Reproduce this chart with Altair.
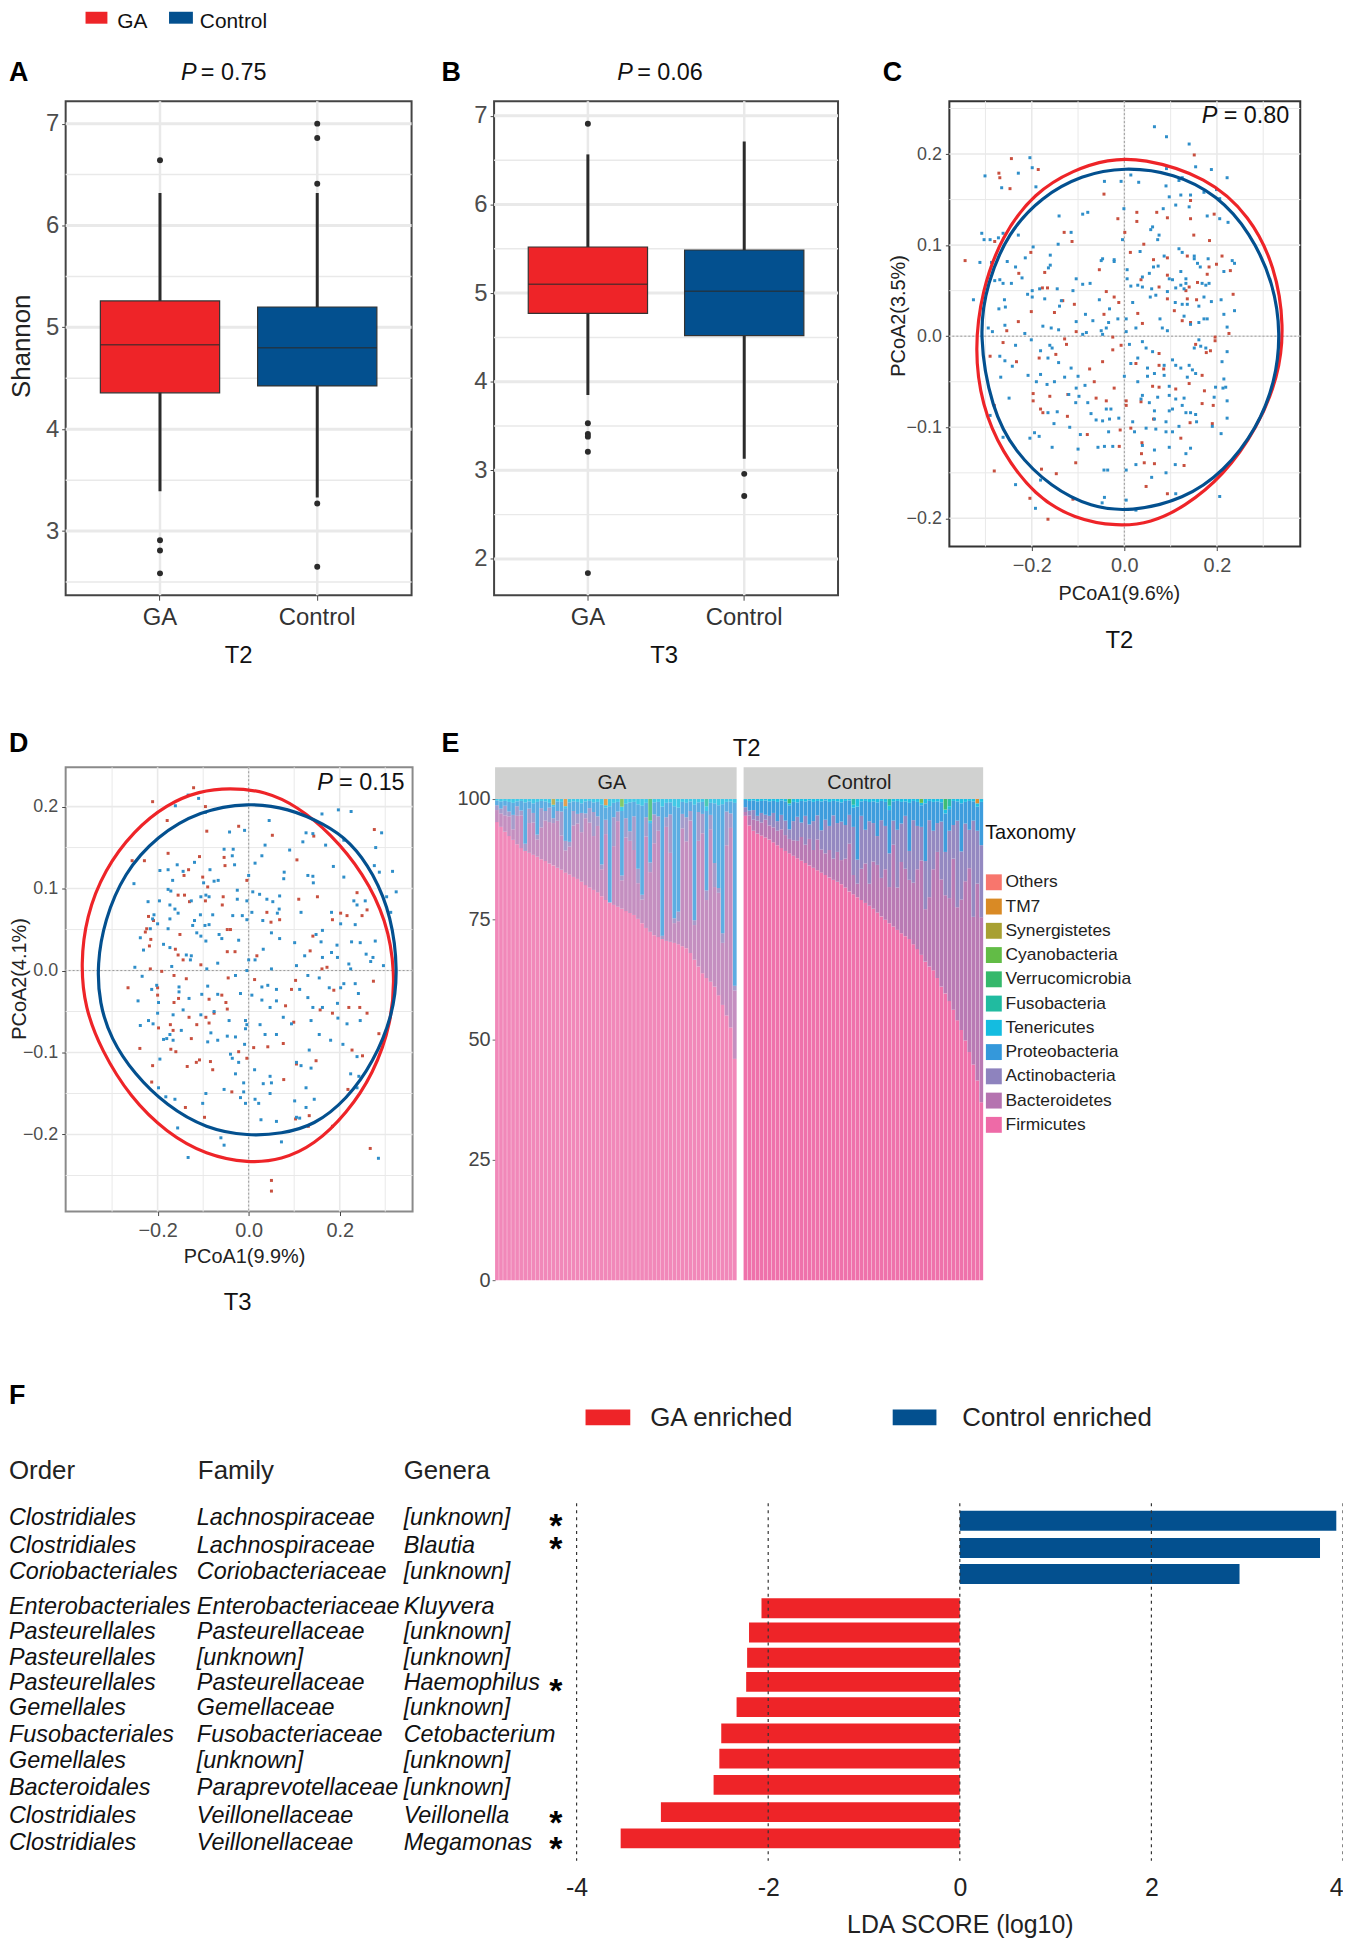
import altair as alt
import pandas as pd

FONT = "Liberation Sans"
RED = "#EE2428"
BLUE = "#03508F"
DOT_RED = "#C8503F"
DOT_BLUE = "#2E8EC9"
GRID = "#E9E9E9"

# ---------- Panels A, B: box summaries (q1, median, q3, whisker low, whisker high)
GROUPS = ["GA", "Control"]
BOX_COLORS = [RED, BLUE]
A_q1, A_med, A_q3 = [4.357, 4.425], [4.83, 4.80], [5.26, 5.20]
A_lo, A_hi = [3.39, 3.33], [6.32, 6.32]
A_out_group = ["GA", "GA", "GA", "GA", "Control", "Control", "Control", "Control", "Control"]
A_out_value = [6.64, 2.91, 2.81, 2.585, 7.0, 6.86, 6.41, 3.27, 2.65]
B_q1, B_med, B_q3 = [4.77, 4.52], [5.10, 5.02], [5.52, 5.486]
B_lo, B_hi = [3.85, 3.13], [6.565, 6.71]
B_out_group = ["GA", "GA", "GA", "GA", "GA", "GA", "Control", "Control"]
B_out_value = [6.91, 3.53, 3.41, 3.38, 3.21, 1.84, 2.96, 2.71]

# ---------- Panel C: PCoA points and ellipses
C_red = [(-.244,.195),(-.271,.179),(-.269,.174),(-.247,.162),(-.186,.183),(-.044,.156),(-.280,.104),(-.344,.083),(-.014,.129),(.027,.136),(.027,.126),(.070,.136),(.093,.130),(.143,.149),(.143,.129),(.151,.199),(.194,.134),(.150,.111),(.184,.105),(.001,.114),(.042,.101),(.013,.092),(-.130,.114),(-.113,.104),(-.202,.092),(-.172,.070),(-.228,.069),(-.177,.053),(-.166,.053),(-.133,.039),(-.108,.035),(-.201,.027),(-.151,.026),(-.229,.016),(-.254,.006),(-.262,-.007),(-.290,-.022),(-.233,-.028),(-.184,-.024),(-.129,-.003),(-.125,-.009),(-.148,-.020),(-.104,.005),(-.039,.049),(-.022,.043),(-.012,.037),(-.054,.073),(-.044,.024),(-.025,-.001),(-.007,-.010),(-.025,-.015),(-.047,-.028),(-.075,-.036),(-.065,-.050),(.029,.025),(.039,.014),(.025,-.030),(.075,-.019),(.061,-.055),(.075,-.032),(.085,-.036),(.075,-.056),(.036,-.072),(.063,-.091),(.004,-.071),(.004,-.076),(-.039,-.071),(-.061,-.068),(-.022,-.057),(-.080,-.108),(-.011,-.121),(-.009,-.103),(.014,-.101),(.038,-.117),(.037,-.129),(.043,-.139),(.065,-.140),(.047,-.165),(.093,-.173),(.129,-.142),(.142,-.095),(.122,-.112),(.111,-.058),(-.105,-.139),(-.147,-.151),(-.179,-.146),(-.281,-.148),(-.281,-.076),(-.197,-.063),(-.197,-.071),(-.181,-.080),(-.176,-.084),(-.161,-.066),(-.122,-.064),(-.123,-.088),(-.204,-.178),(-.111,-.179),(-.165,-.201),(.093,.041),(.108,.028),(.125,.017),(.136,.041),(.156,.040),(.143,.015),(.133,.050),(.140,.054),(.158,.059),(.179,.068),(.183,.076),(.136,.088),(.093,.067),(.063,.084),(.075,.054),(.093,.086),(.036,.062),(.211,.088),(.199,.079),(.229,.072),(.235,.046),(.226,.003),(.196,-.001),(.196,-.005),(.186,-.016),(.177,-.018),(.154,-.009),(.168,-.043),(.173,-.060),(.192,-.076),(.190,-.096),(.168,-.074),(.140,-.052)]
C_blue = [(.065,.230),(.091,.219),(.140,.211),(-.204,.196),(-.199,.185),(-.229,.179),(-.301,.176),(-.265,.163),(-.191,.164),(-.007,.170),(-.043,.170),(.014,.177),(.031,.169),(.091,.184),(.090,.165),(.154,.186),(.188,.183),(.222,.174),(.125,.174),(.118,.171),(.199,.161),(.172,.158),(.206,.151),(.097,.153),(.122,.155),(.143,.155),(.111,.144),(.084,.140),(.140,.142),(.179,.132),(.206,.129),(.224,.125),(-.090,.134),(-.079,.136),(-.141,.132),(-.001,.140),(.061,.120),(.057,.117),(.075,.111),(.072,.106),(-.004,.106),(-.115,.114),(-.143,.101),(-.229,.111),(-.262,.113),(-.272,.108),(-.308,.113),(-.303,.106),(-.290,.106),(-.312,.081),(-.287,.081),(-.253,.082),(-.235,.076),(-.221,.064),(-.197,.098),(-.214,.086),(-.160,.089),(-.164,.075),(-.160,.078),(-.047,.085),(-.050,.083),(-.022,.084),(-.022,.082),(.034,.093),(.118,.096),(.125,.092),(.151,.088),(.151,.085),(.181,.085),(.086,.088),(.063,.076),(.073,.077),(.158,.080),(.164,.076),(.233,.083),(.238,.080),(.215,.071),(.006,.073),(.054,.069),(.039,.065),(.006,.063),(.014,.055),(.029,.056),(.039,.054),(.059,.052),(.056,.043),(.068,.045),(.093,.049),(.097,.063),(.104,.062),(.122,.071),(.133,.063),(.133,.058),(.111,.053),(.122,.056),(.129,.052),(.168,.058),(.176,.056),(.183,.058),(.172,.043),(.188,.038),(.161,.033),(.209,.040),(.215,.024),(.238,.028),(.172,.019),(.179,.019),(.161,.015),(.143,.013),(.129,.022),(.136,.035),(.125,.035),(.110,.037),(.077,.019),(.082,.009),(.093,.006),(.018,.037),(.004,.019),(-.014,.019),(.025,.009),(.004,.005),(-.034,.015),(-.050,.006),(-.039,.009),(-.047,.002),(-.068,.017),(-.084,.024),(-.104,.016),(-.082,.004),(-.090,.002),(-.054,.040),(-.032,.030),(-.090,.057),(-.074,.058),(-.104,.063),(-.111,.050),(-.136,.039),(-.140,.033),(-.145,.052),(-.172,.041),(-.199,.050),(-.209,.046),(-.199,.043),(-.183,.052),(-.244,.058),(-.262,.058),(-.269,.062),(-.280,.061),(-.326,.040),(-.259,.040),(-.257,.032),(-.271,.030),(-.258,.012),(-.294,.009),(-.285,.005),(-.215,.003),(-.176,.011),(-.158,.009),(-.142,.007),(-.201,-.004),(-.235,-.010),(-.269,-.022),(-.258,-.027),(-.242,-.033),(-.267,-.045),(-.208,-.043),(-.181,-.016),(-.161,-.010),(-.156,-.013),(-.165,-.024),(-.142,-.029),(-.115,-.035),(-.129,-.045),(-.100,-.044),(-.190,-.050),(-.181,-.042),(-.167,-.053),(-.151,-.050),(-.085,-.054),(-.104,-.057),(-.120,-.064),(-.098,-.066),(-.105,-.073),(-.079,-.073),(-.072,-.085),(-.061,-.092),(-.047,-.093),(-.032,-.091),(-.012,-.090),(-.039,-.080),(-.029,-.080),(-.165,-.084),(-.145,-.083),(-.152,-.096),(-.118,-.100),(-.095,-.108),(-.194,-.106),(-.184,-.110),(-.204,-.112),(-.262,-.111),(-.290,-.087),(-.249,-.068),(-.156,-.122),(-.100,-.124),(-.057,-.122),(-.043,-.121),(-.025,-.121),(-.034,-.105),(-.044,-.147),(-.036,-.147),(.004,-.147),(.025,-.141),(.059,-.155),(.090,-.150),(.110,-.141),(-.043,-.177),(-.048,-.183),(.004,-.180),(.025,-.191),(.111,-.173),(.206,-.176),(-.192,-.189),(-.181,-.158),(-.235,-.163),(.133,-.129),(.143,-.123),(.097,-.122),(.065,-.125),(.039,-.120),(.018,-.094),(.022,-.105),(.047,-.101),(.068,-.102),(.090,-.105),(.104,-.105),(.090,-.094),(.118,-.099),(.209,-.107),(.222,-.090),(.190,-.099),(.222,-.071),(.197,-.056),(.194,-.067),(.213,-.057),(.219,-.056),(.215,-.047),(.211,-.028),(.222,-.017),(.222,.010),(.161,-.004),(.165,-.011),(.176,-.013),(.151,-.013),(.140,-.032),(.147,-.037),(.154,-.041),(.136,-.045),(.122,-.035),(.111,-.032),(.104,-.026),(.086,-.032),(.061,-.017),(.047,-.013),(.039,-.006),(.011,-.009),(.029,-.024),(.014,-.030),(0,-.044),(.050,-.035),(.065,-.041),(.050,-.044),(.029,-.050),(.039,-.065),(.036,-.069),(.054,-.073),(.072,-.067),(.086,-.043),(.097,-.055),(.097,-.065),(.111,-.069),(.104,-.080),(.097,-.082),(.129,-.068),(.125,-.076),(.133,-.084),(.143,-.084),(.154,-.086),(.156,-.094),(.065,-.082),(.065,-.091)]
C_red_ring = [(.036,.196),(.179,.175),(.272,.132),(.326,.076),(.346,.011),(.333,-.045),(.287,-.101),(.215,-.153),(.129,-.188),(.057,-.205),(-.014,-.209),(-.108,-.201),(-.194,-.175),(-.265,-.127),(-.308,-.076),(-.324,-.015),(-.308,.050),(-.265,.110),(-.194,.158),(-.108,.183),(-.036,.194)]
C_blue_ring = [(0,.186),(.108,.179),(.201,.155),(.272,.114),(.323,.058),(.338,.002),(.326,-.050),(.287,-.101),(.215,-.149),(.129,-.179),(.014,-.193),(-.072,-.188),(-.158,-.166),(-.237,-.127),(-.287,-.080),(-.315,.002),(-.297,.058),(-.251,.114),(-.179,.153),(-.093,.177)]

# ---------- Panel D
D_red = [(-.121,.223),(-.211,.206),(-.179,.183),(-.095,.200),(-.092,.170),(-.022,.176),(.052,.165),(.143,.164),(.276,.172),(-.229,.134),(-.256,.134),(-.177,.143),(-.108,.139),(-.054,.138),(-.052,.128),(.106,.135),(-.132,.123),(-.142,.116),(-.101,.114),(-.004,.110),(-.090,.102),(-.155,.092),(-.141,.092),(-.130,.084),(-.095,.085),(-.056,.090),(-.058,.080),(.110,.087),(.151,.090),(.238,.095),(.260,.074),(.216,.067),(.202,.070),(.184,.062),(.249,.067),(.040,.071),(.068,.062),(.049,.059),(-.220,.066),(-.209,.061),(-.224,.051),(-.227,.047),(-.215,.038),(-.218,.030),(-.151,.044),(-.047,.050),(-.040,.050),(.141,.042),(.135,.024),(-.161,.026),(-.155,.019),(-.144,.013),(-.047,.023),(-.030,.023),(.018,.018),(-.105,.007),(-.216,.002),(-.191,-.001),(-.164,-.006),(-.137,-.010),(-.045,-.009),(.161,.002),(.172,.004),(-.265,-.021),(-.200,-.021),(-.200,-.030),(-.164,-.039),(-.154,-.034),(-.087,-.035),(-.059,-.030),(-.050,-.039),(-.047,-.047),(.013,-.011),(.103,-.012),(.094,-.023),(.081,-.043),(.157,-.048),(.184,-.052),(.187,-.024),(.220,-.045),(.244,-.045),(.260,-.052),(.274,-.013),(.286,-.077),(.227,-.097),(.250,-.104),(.099,-.063),(.076,-.089),(.042,-.093),(.011,-.094),(-.022,-.099),(-.004,-.107),(-.108,-.109),(-.084,-.111),(-.135,-.117),(-.115,-.112),(-.239,-.095),(-.211,-.116),(-.213,-.136),(-.160,-.099),(-.171,-.096),(-.198,-.070),(-.172,-.066),(-.166,-.073),(-.131,-.057),(-.114,-.066),(-.094,-.057),(-.087,-.064),(-.076,-.052),(-.126,-.083),(-.079,-.121),(-.139,-.167),(-.097,-.179),(-.037,-.148),(.077,-.133),(.105,-.114),(.148,-.110),(.133,-.177),(.131,-.190),(.103,-.181),(.184,-.190),(.218,-.145),(.267,-.217),(.050,-.256),(.050,-.269)]
D_blue = [(-.133,.214),(-.110,.210),(-.161,.201),(-.095,.193),(-.042,.169),(-.009,.171),(.045,.183),(.161,.191),(.197,.196),(.225,.194),(.126,.168),(.119,.157),(.141,.167),(.169,.153),(.209,.159),(.292,.168),(.279,.150),(.036,.153),(.090,.147),(.029,.140),(.014,.131),(-.054,.148),(-.034,.148),(-.036,.140),(-.031,.129),(-.085,.123),(-.119,.132),(-.157,.129),(-.177,.123),(-.195,.122),(-.144,.121),(.186,.127),(.276,.128),(.287,.120),(.316,.121),(.078,.120),(.077,.112),(.130,.116),(.141,.115),(.142,.107),(.209,.114),(0,.116),(-.025,.098),(-.067,.110),(-.076,.109),(-.099,.107),(-.167,.110),(-.252,.106),(-.177,.099),(-.171,.097),(-.196,.085),(-.221,.084),(-.173,.080),(-.162,.075),(-.105,.090),(-.087,.090),(-.126,.085),(-.094,.092),(-.025,.087),(-.004,.085),(.009,.096),(.024,.093),(.040,.087),(.053,.084),(.068,.091),(.067,.075),(.063,.070),(.007,.071),(-.014,.067),(-.035,.067),(-.004,.062),(.031,.061),(-.079,.068),(-.106,.068),(-.119,.061),(-.155,.070),(-.173,.063),(-.208,.068),(-.211,.063),(-.216,.051),(-.200,.057),(-.177,.051),(-.123,.055),(-.096,.055),(-.087,.056),(-.114,.046),(-.105,.042),(-.094,.036),(-.065,.044),(-.059,.039),(-.022,.037),(.050,.046),(.068,.039),(.101,.034),(.115,.071),(.162,.049),(.148,.044),(.159,.035),(.194,.031),(.182,.022),(.162,.016),(.195,.016),(.182,.071),(.202,.057),(.234,.056),(.231,.085),(.238,.080),(.256,.085),(.278,.036),(.245,.034),(.226,.035),(.303,.090),(.312,.071),(.324,.096),(.258,.020),(.273,.016),(.296,.006),(.268,.011),(.220,.008),(.224,.002),(.123,.018),(.105,.006),(.014,.013),(.032,.026),(0,.013),(-.004,0),(.050,.002),(-.068,.009),(-.092,.002),(-.126,.018),(-.137,.019),(-.128,.013),(-.169,.005),(-.187,.032),(-.173,.028),(-.231,.025),(-.238,.040),(-.250,.004),(-.234,-.007),(-.243,-.037),(-.213,-.023),(-.202,-.018),(-.153,-.020),(-.153,-.026),(-.198,-.039),(-.200,-.052),(-.131,-.034),(-.103,-.029),(-.090,-.019),(-.068,-.029),(-.029,-.006),(-.018,-.028),(.029,-.020),(.042,-.018),(.061,-.023),(.007,-.030),(.029,-.036),(.047,-.045),(.061,-.037),(.076,-.057),(-.076,-.050),(-.105,-.054),(-.144,-.048),(-.166,-.054),(-.220,-.061),(-.238,-.067),(-.210,-.065),(-.173,-.078),(-.187,-.084),(-.180,-.083),(-.148,-.073),(-.166,-.085),(-.083,-.076),(-.090,-.087),(-.068,-.085),(-.047,-.080),(-.029,-.081),(-.007,-.061),(-.007,-.071),(-.004,-.066),(-.043,-.061),(.025,-.066),(.036,-.078),(.061,-.078),(.094,-.065),(.137,-.061),(.155,-.078),(.180,-.085),(.216,-.065),(.245,-.061),(.196,-.058),(.195,-.040),(.209,-.016),(.234,-.016),(.241,-.028),(.202,-.021),(.130,-.033),(.141,-.045),(.162,-.045),(.112,-.023),(.130,-.006),(.155,-.009),(.177,-.021),(-.195,-.108),(-.198,-.143),(-.182,-.154),(-.162,-.157),(-.156,-.192),(-.133,-.228),(-.101,-.162),(-.094,-.150),(-.054,-.145),(-.061,-.204),(-.054,-.213),(-.040,-.102),(-.036,-.107),(-.022,-.112),(-.009,-.090),(-.029,-.126),(-.011,-.137),(-.011,-.148),(-.018,-.155),(-.007,-.162),(.014,-.157),(.022,-.162),(.032,-.138),(.047,-.129),(.050,-.137),(.047,-.150),(.013,-.121),(.027,-.182),(.061,-.184),(.072,-.209),(.101,-.159),(.105,-.179),(.112,-.180),(.126,-.167),(.144,-.157),(.126,-.143),(.224,-.126),(.242,-.129),(.238,-.143),(.207,-.090),(.238,-.105),(.285,-.229),(.105,-.112),(.115,-.116),(.137,-.119),(.133,-.097)]
D_red_ring = [(-.043,.223),(.036,.219),(.108,.200),(.180,.167),(.252,.119),(.303,.061),(.322,-.001),(.314,-.064),(.274,-.126),(.216,-.174),(.144,-.213),(.072,-.231),(0,-.235),(-.094,-.225),(-.180,-.198),(-.260,-.155),(-.324,-.097),(-.360,-.045),(-.369,.008),(-.357,.066),(-.317,.123),(-.252,.171),(-.180,.203),(-.108,.219)]
D_blue_ring = [(0,.205),(.087,.198),(.166,.179),(.224,.157),(.274,.119),(.314,.066),(.328,-.001),(.317,-.054),(.274,-.112),(.216,-.157),(.144,-.189),(.072,-.199),(0,-.202),(-.094,-.193),(-.180,-.165),(-.252,-.126),(-.303,-.083),(-.328,-.040),(-.333,.008),(-.317,.061),(-.274,.119),(-.202,.164),(-.108,.195)]

# ---------- Panel E: relative abundance per sample
TAXA = ["Others", "TM7", "Synergistetes", "Cyanobacteria", "Verrucomicrobia", "Fusobacteria", "Tenericutes", "Proteobacteria", "Actinobacteria", "Bacteroidetes", "Firmicutes"]
TAXA_COLORS = ["#F8766D", "#D98A25", "#A8A032", "#62BC46", "#35B86B", "#21BBA0", "#14BCE0", "#3498DB", "#8E83BE", "#B573B0", "#EE6AA7"]
GA_firm = [95.2,94.2,93.2,92.3,91.5,90.6,89.8,89.2,88.8,88.4,88.0,87.5,87.1,86.6,86.2,85.7,85.3,84.7,84.3,83.8,83.4,82.8,82.1,81.6,81.1,80.6,79.8,79.0,78.5,78.0,77.6,77.2,76.7,76.3,75.9,75.1,74.2,73.2,72.4,71.7,71.3,70.9,70.5,70.3,70.1,69.8,69.4,69.0,68.0,66.6,65.2,63.8,62.8,62.0,61.0,59.2,57.2,55.0,52.5,46.0]
GA_prot = [1,1.5,1,2,2.5,1,2,8.6,1.5,2,6.8,1.5,2,1,2.5,2,2,6.8,8.2,2,2.5,2,2.5,1.5,2,3,12.4,2.5,20,3,2,13.4,3,6,3,13.4,18.5,3,8.2,2.5,3,26.8,3,2.5,23.3,21.6,2.5,3,2,24,2,2.5,16.5,2.5,12.4,17.2,26.8,2,2.5,38]
GA_act = [1,1,2,1,3,2,1,2,3,2,1,4,2,3,1,2,5,2,1,3,2,4,1,3,5,2,1,3,1,6,2,1,4,2,7,3,1,4,2,6,3,1,2,8,1,2,3,5,2,1,6,4,2,3,5,1,2,7,3,1]
GA_ten = [.3,.5,.4,.6,.8,.5,.4,.7,.5,.9,.6,.4,.5,.8,.3,.5,.6,.4,.7,.5,.6,.9,.5,.4,.7,.6,1.2,.5,1.5,.8,.6,.9,1.0,.7,.6,1.1,1.4,.8,.5,.7,.6,1.6,.8,.7,1.5,1.8,.6,.8,.5,1.2,.7,.6,1.0,.8,.9,1.3,1.1,.6,.5,.8]
GA_small_idx = [14, 17, 27, 31, 38, 52]
GA_small_taxon = ["Synergistetes", "TM7", "TM7", "Cyanobacteria", "Verrucomicrobia", "Fusobacteria"]
GA_small_val = [1.2, 1.5, 1.3, 1.6, 4.5, 1.5]
CT_firm = [96.5,94.5,93.4,92.8,92.4,92.0,91.6,91.0,90.4,89.8,89.2,88.7,88.2,87.7,87.2,86.7,86.2,85.7,85.2,84.7,84.2,83.7,83.2,82.8,82.3,81.6,80.8,80.2,79.6,79.0,78.4,77.8,77.2,76.4,75.6,74.9,74.2,73.5,72.8,72.1,71.5,70.9,69.8,68.8,67.6,66.2,65.2,64.4,62.8,61.0,59.6,58.0,56.2,54.0,52.0,49.8,47.4,44.8,41.5,37.0]
CT_prot = [1.5,2,2,3,2.5,3,3,2.5,4,3,4,5,4,3,4.5,3,5,4,3,6,4,5,3,4.5,4,5,3,4,11,3,6,4,4.5,7,4,5,9,4,6,4.5,3,10,4,5,4.5,12,4,6,4.5,4,8,4.5,5,4,10,4.5,6,4,5,9]
CT_act = [1,1,2,1,2,1,2,3,2,3,3,2,4,5,3,6,3,6,5,4,7,5,9,6,8,7,6,10,5,11,7,13,8,6,12,9,7,5,12,8,11,6,13,9,7,10,16,8,6,12,9,14,7,18,10,12,8,20,11,15]
CT_ten = [.2,.4,.3,.5,.4,.3,.5,.4,.6,.3,.5,.4,.6,.7,.4,.5,.3,.6,.4,.5,.3,.6,.4,.5,.7,.4,.3,.6,1.6,.5,.4,.6,.5,.7,.4,.6,.9,.5,.4,.6,.5,.8,.4,.6,.5,.9,.4,.6,.5,.7,.8,.6,.4,.5,.9,.6,.4,.5,.7,.6]
CT_small_idx = [11, 27, 36, 44, 50, 51, 58]
CT_small_taxon = ["Verrucomicrobia", "Fusobacteria", "Fusobacteria", "Cyanobacteria", "Verrucomicrobia", "Fusobacteria", "TM7"]
CT_small_val = [.9, 1.2, 1.4, .8, 2.2, 1.5, .9]

# ---------- Panel F: LDA scores
F_order = ["Clostridiales", "Clostridiales", "Coriobacteriales", "Enterobacteriales", "Pasteurellales", "Pasteurellales", "Pasteurellales", "Gemellales", "Fusobacteriales", "Gemellales", "Bacteroidales", "Clostridiales", "Clostridiales"]
F_family = ["Lachnospiraceae", "Lachnospiraceae", "Coriobacteriaceae", "Enterobacteriaceae", "Pasteurellaceae", "[unknown]", "Pasteurellaceae", "Gemellaceae", "Fusobacteriaceae", "[unknown]", "Paraprevotellaceae", "Veillonellaceae", "Veillonellaceae"]
F_genus = ["[unknown]", "Blautia", "[unknown]", "Kluyvera", "[unknown]", "[unknown]", "Haemophilus", "[unknown]", "Cetobacterium", "[unknown]", "[unknown]", "Veillonella", "Megamonas"]
F_score = [3.93, 3.76, 2.92, -2.07, -2.2, -2.22, -2.23, -2.33, -2.49, -2.51, -2.57, -3.12, -3.54]
F_row = [.68, 1.74, 2.75, 4.08, 5.02, 6.0, 6.94, 7.92, 8.94, 9.92, 10.94, 12.0, 13.02]
F_star_rows = [.72, 1.6, 6.98, 12.0, 13.0]


def note(text, x, y, size=23.5, weight="normal", style="normal", align="left", angle=0, color="#111111", baseline="middle"):
    return alt.Chart(alt.Data(values=[{"t": text}])).mark_text(
        font=FONT, fontSize=size, fontWeight=weight, fontStyle=style, align=align,
        baseline=baseline, angle=angle, color=color
    ).encode(text="t:N", x=alt.value(x), y=alt.value(y))


def swatch(x, x2, y, y2, color):
    return alt.Chart(alt.Data(values=[{"k": 1}])).mark_rect(color=color).encode(
        x=alt.value(x), x2=alt.value(x2), y=alt.value(y), y2=alt.value(y2))


def spacer(w):
    return alt.Chart(alt.Data(values=[{"k": 1}])).mark_point(opacity=0).encode(
        x=alt.value(0), y=alt.value(0)).properties(width=w, height=1, view=alt.ViewConfig(stroke=None))


def box_panel(q1, med, q3, lo, hi, og, ov, domain, majors, minors, axis_title):
    xs = alt.X("g:N", scale=alt.Scale(domain=GROUPS, paddingInner=0, paddingOuter=0.1),
               axis=alt.Axis(title=None, labelAngle=0, labelFontSize=24, labelColor="#333333", grid=False,
                             domain=False, tickColor="#444444", tickSize=5, labelPadding=5))
    ys = alt.Scale(domain=domain, nice=False, zero=False)
    yax = alt.Axis(title=axis_title, values=majors, format="d", grid=False, domain=False, tickColor="#444444", tickSize=4,
                   labelFontSize=24, labelColor="#4D4D4D", labelPadding=3,
                   titleFontSize=26, titleFontWeight="normal", titleColor="#222222", titleX=-31, titleY=246)
    df = pd.DataFrame({"g": GROUPS, "fill": BOX_COLORS, "q1": q1, "med": med, "q3": q3, "lo": lo, "hi": hi})
    out = pd.DataFrame({"g": og, "v": ov})
    minor = alt.Chart(pd.DataFrame({"v": minors})).mark_rule(color=GRID, strokeWidth=1.5).encode(y=alt.Y("v:Q", scale=ys, axis=yax))
    major = alt.Chart(pd.DataFrame({"v": majors})).mark_rule(color=GRID, strokeWidth=3).encode(y=alt.Y("v:Q", scale=ys))
    vgrid = alt.Chart(df).mark_rule(color=GRID, strokeWidth=2.5).encode(x=xs)
    whisk = alt.Chart(df).mark_rule(color="#2b2b2b", strokeWidth=3).encode(x=xs, y=alt.Y("lo:Q", scale=ys), y2="hi:Q")
    box = alt.Chart(df).mark_bar(size=120, stroke="#333333", strokeWidth=1.2).encode(
        x=xs, y=alt.Y("q1:Q", scale=ys), y2="q3:Q", color=alt.Color("fill:N", scale=None))
    median = alt.Chart(df).mark_tick(size=120, thickness=1.6, color="#2b2b2b", orient="horizontal").encode(x=xs, y=alt.Y("med:Q", scale=ys))
    pts = alt.Chart(out).mark_circle(size=36, color="#2b2b2b", opacity=1).encode(x=xs, y=alt.Y("v:Q", scale=ys))
    return [minor, major, vgrid, whisk, box, median, pts]


def ring(pts, color, xs, ys):
    df = pd.DataFrame({"x": [p[0] for p in pts], "y": [p[1] for p in pts], "i": range(len(pts))})
    return alt.Chart(df).mark_line(interpolate="basis-closed", color=color, strokeWidth=3.2).encode(
        x=alt.X("x:Q", scale=xs), y=alt.Y("y:Q", scale=ys), order="i:Q")


def pcoa_panel(red, blue, red_ring, blue_ring, xdom, ydom, lfs, yvals, yminor, xvals, xminor):
    xs = alt.Scale(domain=xdom, nice=False, zero=False)
    ys = alt.Scale(domain=ydom, nice=False, zero=False)
    xax = alt.Axis(title=None, values=xvals, format=".1f", grid=False, domain=False, tickColor="#444444", tickSize=4, labelFontSize=lfs + 2, labelColor="#4D4D4D", labelPadding=5)
    yax = alt.Axis(title=None, values=yvals, format=".1f", grid=False, domain=False, tickColor="#444444", tickSize=4, labelFontSize=lfs, labelColor="#4D4D4D", labelPadding=4)
    layers = [
        alt.Chart(pd.DataFrame({"v": yminor})).mark_rule(color=GRID, strokeWidth=1).encode(y=alt.Y("v:Q", scale=ys, axis=yax)),
        alt.Chart(pd.DataFrame({"v": xminor})).mark_rule(color=GRID, strokeWidth=1).encode(x=alt.X("v:Q", scale=xs, axis=xax)),
        alt.Chart(pd.DataFrame({"v": yvals})).mark_rule(color=GRID, strokeWidth=1.6).encode(y=alt.Y("v:Q", scale=ys)),
        alt.Chart(pd.DataFrame({"v": xvals})).mark_rule(color=GRID, strokeWidth=1.6).encode(x=alt.X("v:Q", scale=xs)),
        alt.Chart(pd.DataFrame({"v": [0]})).mark_rule(color="#9a9a9a", strokeWidth=1, strokeDash=[2, 2]).encode(y=alt.Y("v:Q", scale=ys)),
        alt.Chart(pd.DataFrame({"v": [0]})).mark_rule(color="#9a9a9a", strokeWidth=1, strokeDash=[2, 2]).encode(x=alt.X("v:Q", scale=xs)),
    ]
    for pts, col_ in ((red, DOT_RED), (blue, DOT_BLUE)):
        df = pd.DataFrame({"x": [p[0] for p in pts], "y": [p[1] for p in pts]})
        layers.append(alt.Chart(df).mark_square(size=9, color=col_, opacity=1).encode(x=alt.X("x:Q", scale=xs), y=alt.Y("y:Q", scale=ys)))
    layers.append(ring(red_ring, RED, xs, ys))
    layers.append(ring(blue_ring, BLUE, xs, ys))
    return layers


def sample_table(firm, prot, act, ten, s_idx, s_tax, s_val):
    rows = []
    for i, f in enumerate(firm):
        parts = {"Firmicutes": f}
        small = {t: v for j, t, v in zip(s_idx, s_tax, s_val) if j == i}
        room = 100 - f - sum(small.values())
        te = min(ten[i], room)
        room -= te
        pr = min(prot[i], room)
        room -= pr
        ac = min(act[i], room)
        room -= ac
        parts.update({"Bacteroidetes": room, "Actinobacteria": ac, "Proteobacteria": pr, "Tenericutes": te})
        parts.update(small)
        base = 0
        for t in ["Firmicutes", "Bacteroidetes", "Actinobacteria", "Proteobacteria", "Tenericutes", "Fusobacteria", "Verrucomicrobia", "Cyanobacteria", "Synergistetes", "TM7", "Others"]:
            if parts.get(t, 0) > 0:
                rows.append({"s": i, "taxon": t, "y0": base, "y1": base + parts[t]})
                base += parts[t]
    return pd.DataFrame(rows)


E_DOMAIN = [0, 106.6]
E_TICKS = [0, 25, 50, 75, 100]
tax_legend = alt.Legend(orient="none", legendX=925, legendY=726, title="Taxonomy", titleFont=FONT, titleFontSize=20,
                        titleFontWeight="normal", titleColor="#111111", titlePadding=31, labelFont=FONT, labelFontSize=17.5,
                        labelColor="#222222", symbolType="square", symbolSize=256, symbolStrokeWidth=0, symbolOpacity=1,
                        rowPadding=5.4, labelOffset=3, labelLimit=200, values=TAXA)


def e_panel(table, w, opacity, show_axis, strip_label):
    ys = alt.Scale(domain=E_DOMAIN, nice=False)
    yax = alt.Axis(title=None, values=E_TICKS, grid=False, domain=False, tickColor="#666666", tickSize=3, labelFontSize=20, labelColor="#444444", labelPadding=2) if show_axis else None
    strip = alt.Chart(alt.Data(values=[{"a": 100, "b": 106.6}])).mark_rect(color="#D0D1D0").encode(
        y=alt.Y("a:Q", scale=ys, axis=yax), y2="b:Q", x=alt.value(0), x2=alt.value(w))
    bars = alt.Chart(table).mark_bar(opacity=opacity).encode(
        x=alt.X("s:O", axis=None, scale=alt.Scale(paddingInner=0.08, paddingOuter=0)),
        y=alt.Y("y0:Q", scale=ys, axis=yax), y2="y1:Q",
        color=alt.Color("taxon:N", scale=alt.Scale(domain=TAXA, range=TAXA_COLORS), legend=tax_legend))
    label = note(strip_label, w / 2 - 4, 16, size=20, align="center", color="#222222")
    return [strip, bars, label]


# ---------- build
A = alt.layer(
    *box_panel(A_q1, A_med, A_q3, A_lo, A_hi, A_out_group, A_out_value, [2.37, 7.22], [3, 4, 5, 6, 7], [2.5, 3.5, 4.5, 5.5, 6.5], "Shannon"),
    swatch(20, 42, -90, -78, RED), note("GA", 52, -80, size=21), swatch(104, 128, -90, -78, BLUE), note("Control", 135, -80, size=21),
    note("A", -57, -28, size=27, weight="bold", color="#000000"),
    note("P", 116, -28, style="italic"), note("= 0.75", 136, -28), note("T2", 174, 558, size=24, align="center"),
).properties(width=348, height=497, view=alt.ViewConfig(stroke="#444444", strokeWidth=2))

B = alt.layer(
    *box_panel(B_q1, B_med, B_q3, B_lo, B_hi, B_out_group, B_out_value, [1.59, 7.165], [2, 3, 4, 5, 6, 7], [2.5, 3.5, 4.5, 5.5, 6.5], None),
    note("B", -53, -28, size=27, weight="bold", color="#000000"),
    note("P", 124, -28, style="italic"), note("= 0.06", 144, -28), note("T3", 171, 558, size=24, align="center"),
).properties(width=346, height=497, view=alt.ViewConfig(stroke="#444444", strokeWidth=2))

C = alt.layer(
    *pcoa_panel(C_red, C_blue, C_red_ring, C_blue_ring, [-.378, .38], [-.231, .258], 18,
                [-.2, -.1, 0, .1, .2], [-.15, -.05, .05, .15, .25], [-.2, 0, .2], [-.3, -.1, .1, .3]),
    note("C", -67, -28, size=27, weight="bold", color="#000000"),
    note("P", 254, 15, style="italic"), note("= 0.80", 276, 15),
    note("PCoA1(9.6%)", 171, 496, size=20, align="center", color="#222222"),
    note("PCoA2(3.5%)", -51, 216, size=20, align="center", angle=270, color="#222222"),
    note("T2", 171, 543, size=24, align="center"),
).properties(width=353, height=448, view=alt.ViewConfig(stroke="#333333", strokeWidth=2))

D = alt.layer(
    *pcoa_panel(D_red, D_blue, D_red_ring, D_blue_ring, [-.402, .36], [-.294, .248], 18,
                [-.2, -.1, 0, .1, .2], [-.25, -.15, -.05, .05, .15], [-.2, 0, .2], [-.3, -.1, .1, .3]),
    note("D", -57, -23, size=27, weight="bold", color="#000000"),
    note("P", 253, 16, style="italic"), note("= 0.15", 275, 16),
    note("PCoA1(9.9%)", 180, 493, size=20, align="center", color="#222222"),
    note("PCoA2(4.1%)", -46, 213, size=20, align="center", angle=270, color="#222222"),
    note("T3", 173, 539, size=24, align="center"),
).properties(width=349, height=447, view=alt.ViewConfig(stroke="#8a8a8a", strokeWidth=2))

E_ga = alt.layer(
    *e_panel(sample_table(GA_firm, GA_prot, GA_act, GA_ten, GA_small_idx, GA_small_taxon, GA_small_val), 243, 0.8, True, "GA"),
    note("E", -54, -23, size=27, weight="bold", color="#000000"),
    note("T2", 253, -18, size=24, align="center"),
).properties(width=243, height=516, view=alt.ViewConfig(stroke=None))
E_ct = alt.layer(
    *e_panel(sample_table(CT_firm, CT_prot, CT_act, CT_ten, CT_small_idx, CT_small_taxon, CT_small_val), 241, 0.95, False, "Control"),
).properties(width=241, height=516, view=alt.ViewConfig(stroke=None))

F_ROW_DOMAIN = [-2.528, 13.887]
rows_df = pd.DataFrame({"order": F_order, "family": F_family, "genus": F_genus, "score": F_score, "row": F_row, "zero": [0] * len(F_row)})
rows_df["fill"] = [BLUE if s > 0 else RED for s in F_score]
ry = alt.Scale(domain=F_ROW_DOMAIN, nice=False, zero=False, reverse=True)


def col(field, x):
    return alt.Chart(rows_df).mark_text(font=FONT, fontSize=23.5, fontStyle="italic", align="left", baseline="middle", color="#111111").encode(
        text=f"{field}:N", x=alt.value(x), y=alt.Y("row:Q", scale=ry, axis=None))


F_text = alt.layer(
    col("order", -57), col("family", 132), col("genus", 340),
    alt.Chart(pd.DataFrame({"row": F_star_rows})).mark_text(font=FONT, fontSize=34, fontWeight="bold", align="center", baseline="middle", dy=8, color="#000000", text="*").encode(
        x=alt.value(493), y=alt.Y("row:Q", scale=ry, axis=None)),
    note("F", -57, -37, size=27, weight="bold", color="#000000"),
    note("Order", -57, 38, size=26, color="#222222"), note("Family", 133, 38, size=26, color="#222222"), note("Genera", 340, 38, size=26, color="#222222"),
    swatch(523, 568, -24, -8, RED), note("GA enriched", 588, -15, size=26, color="#222222"),
).properties(width=514, height=435, view=alt.ViewConfig(stroke=None))

fx = alt.Scale(domain=[-4, 4], nice=False)
F_bars = alt.layer(
    alt.Chart(rows_df).mark_bar(orient="horizontal", size=20).encode(
        x=alt.X("score:Q", scale=fx, axis=alt.Axis(title="LDA SCORE (log10)", values=[-4, -2, 0, 2, 4], labelExpr="datum.value + ''", grid=False, domain=False, ticks=False,
                                                   labelAlign={"condition": {"test": "datum.value == 4", "value": "right"}, "value": "center"},
                                                   labelFontSize=25, labelColor="#222222", labelPadding=10, titleFontSize=25, titleFontWeight="normal", titleColor="#222222", titlePadding=12)),
        x2="zero:Q", y=alt.Y("row:Q", scale=ry, axis=None),
        color=alt.Color("fill:N", scale=None)),
    alt.Chart(pd.DataFrame({"v": [-4, -2, 0, 2, 4], "a": [0] * 5, "b": [13.887] * 5})).mark_rule(color="#333333", strokeWidth=1.2, strokeDash=[3, 4]).encode(
        x=alt.X("v:Q", scale=fx), y=alt.Y("a:Q", scale=ry, axis=None), y2="b:Q"),
    swatch(318, 362, -24, -8, BLUE), note("Control enriched", 388, -15, size=26, color="#222222"),
).properties(width=771, height=435, view=alt.ViewConfig(stroke=None))

row1 = alt.hconcat(A, spacer(83), B, spacer(112), C, spacing=0, bounds="flush")
row2 = alt.hconcat(D, spacer(83), E_ga, spacer(7), E_ct, spacing=0, bounds="flush")
row3 = alt.hconcat(F_text, F_bars, spacing=0, bounds="flush")

chart = alt.vconcat(row1, row2, row3, spacing=670, bounds="flush").properties(
    padding={"left": 0, "top": -4, "right": -1, "bottom": -4})
chart = chart.configure(font=FONT)
chart.save("out.html", embed_options={"renderer": "svg", "actions": False})
